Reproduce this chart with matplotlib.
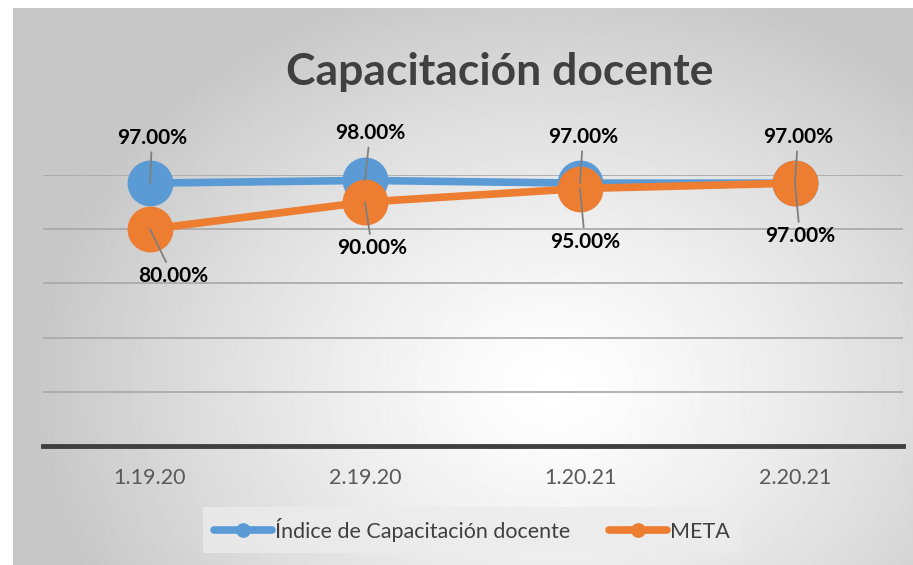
import matplotlib.pyplot as plt
import numpy as np

periodos = ["1.19.20", "2.19.20", "1.20.21", "2.20.21"]
indice = [97.0, 98.0, 97.0, 97.0]
meta = [80.0, 90.0, 95.0, 97.0]

azul = '#5B9BD5'
naranja = '#ED7D31'
texto = '#404040'

plt.rcParams['font.family'] = ['Lato', 'DejaVu Sans']

W, H = 913, 565
fig = plt.figure(figsize=(W / 100, H / 100), dpi=100)
fig.patch.set_facecolor('white')

# fondo con degradado radial (zona del grafico)
bg = fig.add_axes([13 / W, 0, 1 - 13 / W, 1 - 8 / H])
bg.set_axis_off()
yy, xx = np.mgrid[0:557, 0:900]
d = np.sqrt(((xx - 540) / 520.0) ** 2 + ((yy - 380) / 420.0) ** 2)
g = 1.0 - 0.22 * np.clip(d, 0, 1) ** 1.3
bg.imshow(g, cmap='gray', vmin=0, vmax=1, aspect='auto', interpolation='bilinear')

ax = fig.add_axes([42.5 / W, 1 - 446 / H, 860 / W, 271 / H])
ax.patch.set_alpha(0)
x = np.arange(len(periodos))
ax.set_xlim(-0.5, len(periodos) - 0.5)
ax.set_ylim(0, 100)

for yv in [20, 40, 60, 80, 100]:
    ax.axhline(yv, color='#ababab', lw=1.3, zorder=1)
ax.axhline(0, color=texto, lw=3.5, zorder=2, clip_on=False)

for s in ax.spines.values():
    s.set_visible(False)
ax.set_yticks([])
ax.set_xticks(x)
ax.set_xticklabels(periodos, fontsize=15.5, color='#595959')
ax.tick_params(axis='x', length=0, pad=16)

ax.plot(x, indice, color=azul, lw=5.5, marker='o', ms=32, zorder=3,
        solid_capstyle='round', label='Índice de Capacitación docente', clip_on=False)
ax.plot(x, meta, color=naranja, lw=5.5, marker='o', ms=32, zorder=4,
        solid_capstyle='round', label='META', clip_on=False)

off_azul = [(2, 45), (5, 47), (3, 46), (3, 46)]
off_nar = [(23, -47), (7, -46), (5, -53), (5, -53)]

for i in range(len(periodos)):
    for serie, offs in ((indice, off_azul), (meta, off_nar)):
        ax.annotate(f"{serie[i]:.2f}%", (x[i], serie[i]), xytext=offs[i],
                    textcoords='offset pixels', ha='center', va='center',
                    fontsize=15, fontweight='bold', color='black', zorder=6,
                    annotation_clip=False,
                    arrowprops=dict(arrowstyle='-', color='#7f7f7f', lw=1.3,
                                    shrinkA=1, shrinkB=0))

fig.text(500 / W, 1 - 72 / H, "Capacitación docente", ha='center', va='center',
         fontsize=32, fontweight='bold', color=texto)

leg = fig.legend(loc='center', bbox_to_anchor=(472 / W, 1 - 530 / H), ncol=2,
                 frameon=True, fontsize=15.5, handlelength=2.7, markerscale=0.3,
                 handletextpad=0.15, columnspacing=1.8, borderpad=0.5,
                 fancybox=False)
leg.get_frame().set_facecolor('#ececec')
leg.get_frame().set_edgecolor('none')
leg.get_frame().set_alpha(0.8)
for t in leg.get_texts():
    t.set_color(texto)

fig.savefig('out.png', dpi=100)
